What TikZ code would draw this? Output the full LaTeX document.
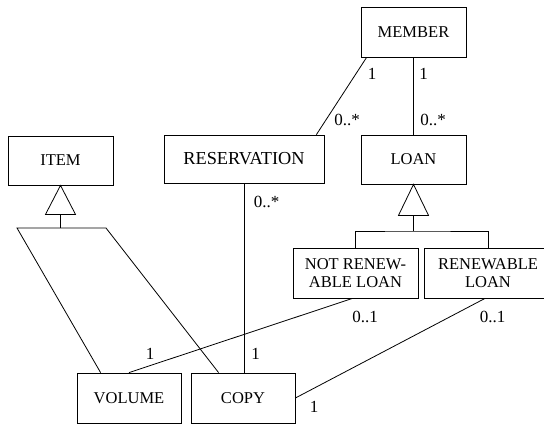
\documentclass[tikz,border=0pt]{standalone}
\usepackage{fontspec}
\setmainfont{Liberation Serif}

\begin{document}
\begin{tikzpicture}[x=1pt,y=-1pt,line width=0.8pt,
  klass/.style={draw,rectangle,inner sep=0pt,align=center,font=\fontsize{16.5}{18}\selectfont},
  mult/.style={inner sep=0pt,font=\fontsize{17}{18}\selectfont}]
\useasboundingbox (0,0) rectangle (544,424);

% klasser
\node[klass,minimum width=105pt,minimum height=50pt] (member) at (413.5,32) {MEMBER};
\node[klass,minimum width=105pt,minimum height=49pt] (loan) at (413.5,159.5) {LOAN};
\node[klass,minimum width=160pt,minimum height=48pt,font=\fontsize{18.3}{20}\selectfont] (reservation) at (244,159) {RESERVATION};
\node[klass,minimum width=105pt,minimum height=49pt] (item) at (60.5,160.5) {ITEM};
\node[klass,minimum width=104pt,minimum height=50pt] (volume) at (129,398) {VOLUME};
\node[klass,minimum width=104pt,minimum height=50pt] (copy) at (243,398) {COPY};
\node[klass,minimum width=125pt,minimum height=50pt] (notren) at (355.5,273) {NOT RENEW-\\ABLE LOAN};
\node[klass,minimum width=128pt,minimum height=50pt] (renew) at (488,273) {RENEWABLE\\LOAN};

% arv ITEM
\draw (item.south) -- ++(-15,29) -- ++(30,0) -- cycle;
\coordinate (itemL) at (17,228);
\coordinate (itemR) at (106,228);
\draw ([yshift=-29pt]item.south) -- (item.south |- itemL);
\draw ([xshift=24pt]volume.north west) -- (itemL) -- (itemR) -- ([xshift=28pt]copy.north west);

% arv LOAN
\draw (loan.south) -- ++(-15,31) -- ++(30,0) -- cycle;
\coordinate (loanbar) at (413.5,231);
\draw ([yshift=-31pt]loan.south) -- (loanbar);
\draw (notren.north) |- (loanbar) -| (renew.north);

% associationer
\draw ([xshift=6pt]member.south west) -- ([xshift=-8pt]reservation.north east);
\draw (member) -- (loan);
\draw (reservation.south) -- (reservation.south |- copy.north);
\draw ([xshift=-3pt]notren.south) -- (volume.north);
\draw ([xshift=-3pt]renew.south) -- (copy.east);

% multipliciteter
\node[mult] (m1) at (372,74) {1};
\node[mult] (m2) at (347,120) {0..*};
\node[mult] (m3) at (423.5,74) {1};
\node[mult] (m4) at (433,120) {0..*};
\node[mult] (m5) at (266.5,202) {0..*};
\node[mult] (m6) at (255.5,354) {1};
\node[mult] (m7) at (365,316.5) {0..1};
\node[mult] (m8) at (492.5,316.5) {0..1};
\node[mult] (m9) at (150,354) {1};
\node[mult] (m10) at (314,406.5) {1};

\end{tikzpicture}
\end{document}
